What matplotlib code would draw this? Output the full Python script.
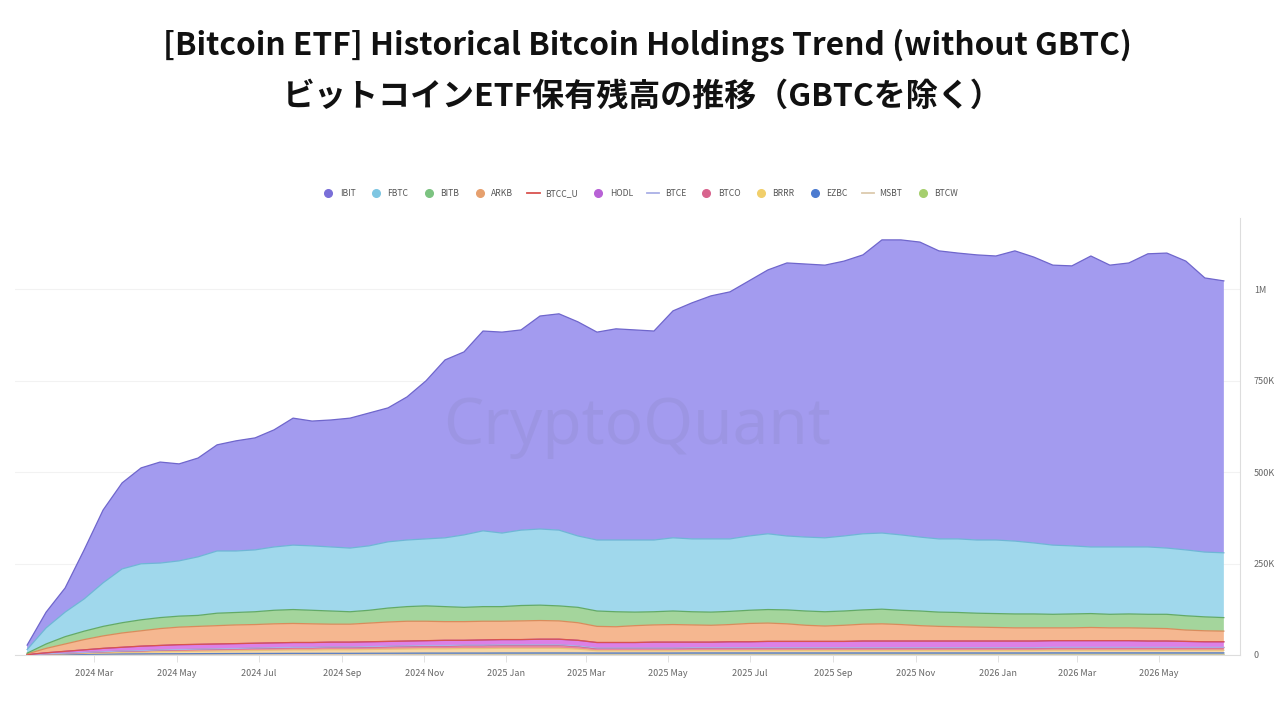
import numpy as np
import pandas as pd
import matplotlib
matplotlib.use("Agg")
import matplotlib.pyplot as plt
import matplotlib.dates as mdates
from matplotlib.lines import Line2D

plt.rcParams['font.family'] = ['Noto Sans CJK JP', 'DejaVu Sans']

# ---- data (thousand BTC) ----
dates = pd.date_range("2024-01-11", "2026-06-18", periods=64)

IBIT = [12, 43, 66, 134, 199, 235, 262, 276, 265, 270, 290, 301, 306, 320, 347, 341,
        347, 355, 363, 366, 391, 432, 486, 500, 546, 549, 547, 582, 591, 585, 568, 577,
        574, 571, 620, 645, 664, 675, 697, 721, 746, 746, 745, 751, 762, 801, 806, 806,
        787, 781, 779, 776, 793, 781, 765, 765, 795, 770, 776, 801, 806, 789, 749, 743]
FBTC = [10, 44, 67, 88, 119, 147, 153, 149, 151, 160, 170, 168, 169, 173, 176, 176,
        175, 174, 176, 181, 182, 183, 188, 198, 207, 201, 206, 208, 207, 195, 194, 196,
        197, 196, 200, 199, 200, 198, 203, 207, 202, 202, 202, 205, 208, 208, 206, 202,
        200, 201, 200, 201, 199, 194, 189, 186, 182, 184, 183, 184, 181, 180, 177, 177]
BITB = [2, 12, 20, 23, 26, 28, 30, 30, 30, 30, 34, 34, 35, 37, 38, 37,
        36, 34, 35, 38, 40, 42, 41, 39, 40, 40, 42, 42, 41, 42, 42, 41,
        37, 36, 37, 36, 36, 36, 36, 37, 38, 39, 39, 39, 39, 40, 39, 40,
        39, 39, 38, 38, 38, 38, 37, 38, 38, 37, 38, 38, 39, 39, 38, 37]
ARKB = [2, 12, 20, 28, 34, 39, 42, 46, 48, 49, 50, 51, 51, 52, 52, 51,
        49, 49, 51, 53, 54, 53, 51, 51, 51, 50, 51, 51, 50, 48, 44, 43,
        46, 47, 48, 47, 46, 47, 50, 50, 48, 44, 42, 44, 46, 47, 45, 42,
        40, 39, 38, 37, 36, 36, 35, 35, 36, 35, 35, 35, 34, 31, 30, 29]
BTCC_U = [0.0, 0.1, 0.1, 0.1, 0.2, 0.2, 0.2, 0.2, 0.2, 0.2, 0.2, 0.2, 0.2, 0.2, 0.2, 0.2,
          0.2, 0.2, 0.2, 0.2, 0.2, 0.2, 0.2, 0.2, 0.2, 0.2, 0.2, 0.2, 0.2, 0.2, 0.2, 0.2,
          0.2, 0.2, 0.2, 0.2, 0.2, 0.2, 0.2, 0.2, 0.2, 0.2, 0.2, 0.2, 0.2, 0.2, 0.2, 0.2,
          0.2, 0.2, 0.2, 0.2, 0.2, 0.2, 0.2, 0.2, 0.2, 0.2, 0.2, 0.2, 0.2, 0.2, 0.2, 0.2]
HODL = [0.5, 3, 5, 7, 9, 10, 12, 12, 13, 13, 13, 13, 13, 13, 13, 13,
        13, 13, 13, 13, 13, 13, 14, 13, 14, 14, 14, 15, 15, 15, 15, 15,
        15, 16, 16, 15, 15, 16, 16, 17, 17, 17, 17, 17, 18, 18, 18, 18,
        18, 18, 18, 18, 18, 18, 18, 18, 18, 18, 18, 17, 17, 16, 15, 15]
BTCE = [0.1, 0.2, 0.3, 0.3, 0.4, 0.4, 0.5, 0.5, 0.5, 0.6, 0.6, 0.6, 0.7, 0.7, 0.7, 0.7,
        0.7, 0.8, 0.8, 0.8, 0.8, 0.8, 0.9, 0.9, 0.9, 0.9, 0.9, 0.9, 0.9, 0.9, 0.9, 0.9,
        0.9, 0.9, 0.9, 0.9, 0.9, 0.9, 0.9, 0.9, 0.9, 0.9, 0.9, 0.9, 0.9, 0.9, 0.9, 0.9,
        0.9, 0.9, 0.9, 0.9, 0.9, 0.9, 1.0, 1.0, 1.0, 1.0, 1.0, 1.0, 1.0, 1.0, 1.0, 1.0]
BTCO = [0.1, 1.0, 1.6, 2.2, 2.8, 3.4, 3.8, 4.4, 4.8, 5.1, 5.4, 5.7, 6.0, 6.3, 6.6, 6.6,
        6.9, 6.9, 7.2, 7.5, 7.8, 8.1, 8.1, 8.4, 8.4, 8.7, 8.7, 8.7, 8.7, 8.0, 6.5, 6.5,
        6.5, 6.5, 6.5, 6.8, 6.8, 6.8, 6.8, 6.8, 6.8, 6.8, 6.8, 6.8, 6.8, 6.8, 6.8, 6.8,
        6.8, 6.8, 6.8, 6.8, 6.8, 6.8, 7.0, 7.0, 7.0, 7.0, 7.0, 7.0, 7.0, 7.0, 7.0, 7.0]
BRRR = [0.1, 0.8, 1.5, 2.5, 3.3, 4.3, 4.6, 5.7, 6.2, 6.6, 7.1, 7.6, 8.1, 8.7, 9.2, 9.2,
        9.8, 9.7, 10.2, 10.8, 11.3, 11.8, 11.7, 12.3, 12.3, 12.8, 12.8, 12.7, 12.7, 10.5, 6.1, 6.1,
        6.1, 6.1, 6.1, 6.6, 6.6, 6.6, 6.6, 6.6, 6.6, 6.6, 6.6, 6.6, 6.6, 6.6, 6.6, 6.6,
        6.6, 6.6, 6.6, 6.6, 6.6, 6.6, 7.1, 7.1, 7.1, 7.1, 7.1, 7.1, 7.1, 7.1, 7.1, 7.1]
EZBC = [0.1, 0.6, 1.0, 1.3, 1.6, 1.9, 2.0, 2.2, 2.3, 2.4, 2.5, 2.6, 2.7, 2.8, 2.9, 2.9,
        3.0, 3.0, 3.1, 3.2, 3.3, 3.4, 3.4, 3.5, 3.5, 3.6, 3.6, 3.7, 3.7, 3.6, 3.5, 3.5,
        3.5, 3.5, 3.5, 3.6, 3.6, 3.6, 3.6, 3.6, 3.6, 3.6, 3.6, 3.6, 3.6, 3.6, 3.6, 3.6,
        3.6, 3.6, 3.6, 3.6, 3.6, 3.6, 3.7, 3.7, 3.7, 3.7, 3.7, 3.7, 3.7, 3.7, 3.7, 3.7]
MSBT = [0.0, 0.1, 0.1, 0.1, 0.2, 0.2, 0.2, 0.2, 0.2, 0.2, 0.3, 0.3, 0.3, 0.3, 0.3, 0.3,
        0.3, 0.3, 0.3, 0.3, 0.4, 0.4, 0.4, 0.4, 0.4, 0.4, 0.4, 0.4, 0.4, 0.4, 0.4, 0.4,
        0.4, 0.4, 0.4, 0.4, 0.4, 0.4, 0.4, 0.4, 0.4, 0.4, 0.4, 0.4, 0.4, 0.4, 0.4, 0.4,
        0.4, 0.4, 0.4, 0.4, 0.4, 0.4, 0.5, 0.5, 0.5, 0.5, 0.5, 0.5, 0.5, 0.5, 0.5, 0.5]
BTCW = [0.1, 0.3, 0.5, 0.6, 0.7, 0.8, 0.9, 1.0, 1.0, 1.1, 1.1, 1.2, 1.2, 1.2, 1.3, 1.3,
        1.3, 1.3, 1.4, 1.4, 1.4, 1.5, 1.5, 1.5, 1.5, 1.6, 1.6, 1.6, 1.6, 1.6, 1.6, 1.6,
        1.6, 1.6, 1.6, 1.7, 1.7, 1.7, 1.7, 1.7, 1.7, 1.7, 1.7, 1.7, 1.7, 1.7, 1.7, 1.7,
        1.7, 1.7, 1.7, 1.7, 1.7, 1.7, 1.7, 1.7, 1.7, 1.7, 1.7, 1.7, 1.7, 1.7, 1.7, 1.7]

legend_order = ["IBIT", "FBTC", "BITB", "ARKB", "BTCC_U", "HODL", "BTCE",
                "BTCO", "BRRR", "EZBC", "MSBT", "BTCW"]
series = {"IBIT": IBIT, "FBTC": FBTC, "BITB": BITB, "ARKB": ARKB, "BTCC_U": BTCC_U,
          "HODL": HODL, "BTCE": BTCE, "BTCO": BTCO, "BRRR": BRRR, "EZBC": EZBC,
          "MSBT": MSBT, "BTCW": BTCW}
y_ticks = [0, 250000, 500000, 750000, 1000000]
y_tick_labels = ["0", "250K", "500K", "750K", "1M"]

# style: (fill, edge line, legend marker, legend kind)
styles = {
    "IBIT":   ("#a39bef", "#6f66cc", "#7a6fd8", "dot"),
    "FBTC":   ("#a0d8ec", "#6fb6d6", "#7ec6e2", "dot"),
    "BITB":   ("#a4d59c", "#62aa67", "#7cc381", "dot"),
    "ARKB":   ("#f5b790", "#d98c5c", "#e6a06e", "dot"),
    "BTCC_U": ("#e07070", "#d9534f", "#d9534f", "line"),
    "HODL":   ("#dc80e6", "#b650c6", "#b862d6", "dot"),
    "BTCE":   ("#c5c8f0", "#aab0e6", "#aab0e6", "line"),
    "BTCO":   ("#e9869f", "#c94f72", "#d8648e", "dot"),
    "BRRR":   ("#f6d6a4", "#e9c37c", "#f1cf6b", "dot"),
    "EZBC":   ("#7d9ad3", "#5b7fc4", "#4c7bd0", "dot"),
    "MSBT":   ("#e8d9c2", "#dccaae", "#dccaae", "line"),
    "BTCW":   ("#b8da8e", "#95c36a", "#a6cf6e", "dot"),
}

fig = plt.figure(figsize=(12.8, 7.2), dpi=100)
ax = fig.add_axes([15 / 1280, 65 / 720, 1225 / 1280, 437 / 720])

stack_order = legend_order[::-1]  # bottom -> top
vals = np.array([np.array(series[n], dtype=float) * 1000 for n in stack_order])
ax.stackplot(dates, vals, colors=[styles[n][0] for n in stack_order],
             linewidth=0, zorder=2)
tops = np.cumsum(vals, axis=0)
for i, n in enumerate(stack_order):
    ax.plot(dates, tops[i], color=styles[n][1], lw=0.9, zorder=3)

ax.set_ylim(0, 1194000)
ax.set_xlim(pd.Timestamp("2024-01-02"), pd.Timestamp("2026-06-30"))

ax.yaxis.tick_right()
ax.set_yticks(y_ticks)
ax.set_yticklabels(y_tick_labels)
ax.tick_params(axis="y", length=0, pad=10, labelsize=6.5, labelcolor="#666666")
ax.grid(axis="y", color="#f2f2f2", lw=0.8, zorder=0)

ax.xaxis.set_major_locator(mdates.MonthLocator(bymonth=[1, 3, 5, 7, 9, 11]))
ax.xaxis.set_major_formatter(mdates.DateFormatter("%Y %b"))
ax.tick_params(axis="x", length=5, width=0.6, color="#dddddd", pad=5,
               labelsize=6.5, labelcolor="#666666")

for s in ["top", "left"]:
    ax.spines[s].set_visible(False)
ax.spines["bottom"].set_color("#dddddd")
ax.spines["bottom"].set_linewidth(0.8)
ax.spines["right"].set_color("#dddddd")
ax.spines["right"].set_linewidth(0.8)

# watermark
ax.text(0.508, 0.522, "CryptoQuant", transform=ax.transAxes, ha="center", va="center",
        fontsize=46, color="#7c78a8", alpha=0.16, zorder=4, fontweight="medium",
        family=["Noto Sans", "DejaVu Sans"])

# legend
handles = []
for n in legend_order:
    c = styles[n][2]
    if styles[n][3] == "dot":
        handles.append(Line2D([], [], marker="o", ls="none", markersize=5.5,
                              markerfacecolor=c, markeredgecolor=c))
    else:
        handles.append(Line2D([], [], color=c, lw=1.3))
fig.legend(handles, legend_order, loc="center", bbox_to_anchor=(0.5, 1 - 194 / 720),
           ncol=12, frameon=False, fontsize=6.2, labelcolor="#555555",
           handlelength=1.5, handletextpad=0.6, columnspacing=1.6)

fig.text(0.506, 1 - 45 / 720, "[Bitcoin ETF] Historical Bitcoin Holdings Trend (without GBTC)",
         ha="center", va="center", fontsize=22.8, fontweight="bold", color="#111111")
fig.text(0.502, 1 - 97 / 720, "ビットコインETF保有残高の推移（GBTCを除く）",
         ha="center", va="center", fontsize=23.0, fontweight="bold", color="#111111")

fig.savefig("out.png", dpi=100)
